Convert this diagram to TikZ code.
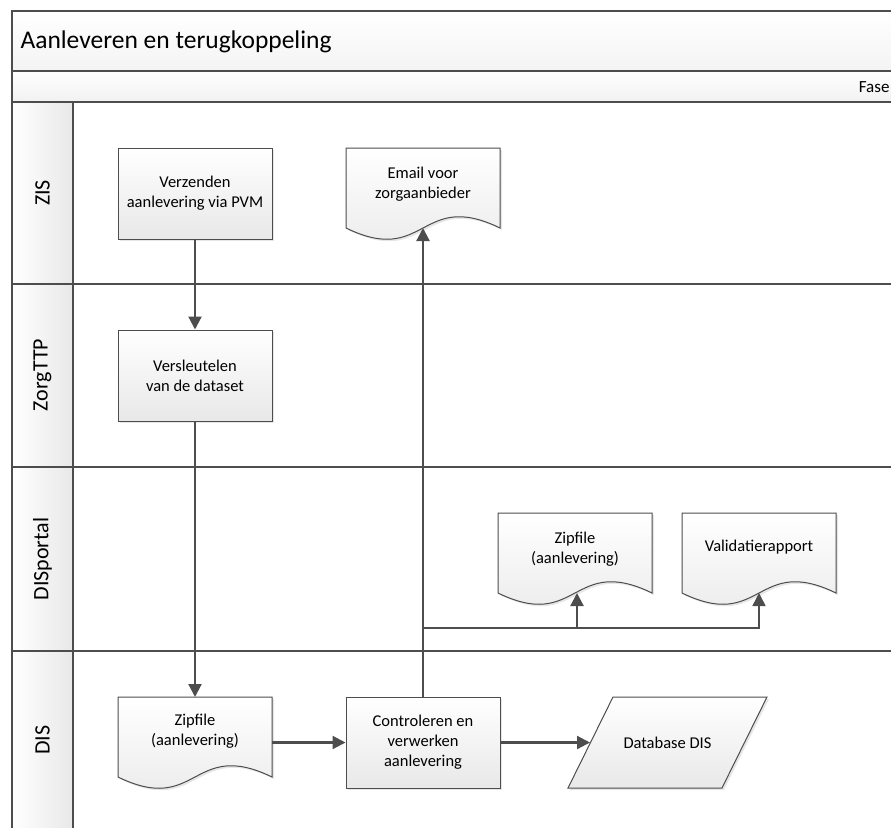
\documentclass[tikz,border=0pt]{standalone}
\usepackage{fontspec}
\setmainfont{Carlito}
\usepackage{xcolor}
\usepackage{tikz}
\usetikzlibrary{calc,arrows.meta,shadows}

\definecolor{lijn}{HTML}{4D4D4D}
\definecolor{vlak}{HTML}{E8E8E8}

% document shape, top-left corner at (#1,#2)
\newcommand{\docvorm}[2]{%
  \path[vorm] (#1,#2) -- (#1+154,#2) -- (#1+154,#2+80)
    .. controls (#1+74,#2+41) and (#1+80,#2+119) .. (#1,#2+80) -- cycle;}

\begin{document}
\begin{tikzpicture}[x=1pt,y=-1pt,
  vorm/.style={draw=lijn, line width=1pt, top color=white, bottom color=vlak,
    drop shadow={shadow xshift=2pt, shadow yshift=-2pt, opacity=0.2}},
  stap/.style={vorm, minimum width=154pt, minimum height=91pt, align=center,
    font=\fontsize{16.5}{20}\selectfont},
  doc/.style={minimum width=154pt, minimum height=68pt, anchor=north, align=center,
    font=\fontsize{16.5}{20}\selectfont},
  baan/.style={rotate=90, font=\fontsize{22}{26}\selectfont},
  rand/.style={draw=lijn, line width=2.2pt},
  pijl/.style={draw=lijn, line width=2.2pt, -{Triangle[length=13pt,width=13pt]}}]

\useasboundingbox (0,0) rectangle (891,827);
\clip (0,0) rectangle (891,827);

% swimlane frame
\shade[top color=white, bottom color=vlak!50] (12,11) rectangle (900,71);
\shade[top color=white, bottom color=vlak!60] (12,71) rectangle (900,102);
\shade[left color=white, right color=vlak] (12,102) rectangle (73,840);
\draw[rand] (12,840) -- (12,11) -- (900,11);
\draw[rand] (12,71) -- (900,71);
\draw[rand] (12,102) -- (900,102);
\draw[rand] (12,284) -- (900,284);
\draw[rand] (12,467) -- (900,467);
\draw[rand] (12,651) -- (900,651);
\draw[rand] (73,102) -- (73,840);

\node[anchor=west, font=\fontsize{25.5}{30}\selectfont] (titel) at (17,42) {Aanleveren en terugkoppeling};
\node[anchor=east, font=\fontsize{17}{20}\selectfont] (fase) at (893,87) {Fase};

\node[baan] (zis) at (42.5,193) {ZIS};
\node[baan] (zorgttp) at (42.5,375) {ZorgTTP};
\node[baan] (disportal) at (42.5,559) {DISportal};
\node[baan] (dis) at (42.5,740) {DIS};

% ZIS
\node[stap] (verzenden) at (195,193.5) {Verzenden\\aanlevering via PVM};
\docvorm{346}{148}
\node[doc] (email) at (423,150) {Email voor\\zorgaanbieder};
\coordinate (email-in) at (423,228);

% ZorgTTP
\node[stap] (versleutelen) at (195,375.5) {Versleutelen\\van de dataset};

% DISportal
\docvorm{498}{513}
\node[doc] (zipportal) at (575,515) {Zipfile\\(aanlevering)};
\docvorm{682}{513}
\node[doc] (valrap) at (759,513) {Validatierapport};
\coordinate (zipportal-in) at (577,593);
\coordinate (valrap-in) at (759,593);

% DIS
\docvorm{118}{697}
\node[doc] (zipdis) at (195,697) {Zipfile\\(aanlevering)};
\node[stap] (ctrl) at (423,742.5) {Controleren en\\verwerken\\aanlevering};
\path[vorm] (613,697) -- (767,697) -- (722,788) -- (568,788) -- cycle;
\node[font=\fontsize{16.5}{20}\selectfont] (db) at (667.5,742.5) {Database DIS};
\coordinate (db-in) at (590,742.5);
\coordinate (splits) at (423,628);

\draw[pijl] (verzenden) -- (versleutelen);
\draw[pijl] (versleutelen) -- (zipdis.north);
\draw[pijl] (zipdis.east |- ctrl.west) -- (ctrl.west);
\draw[pijl] (ctrl.east) -- (db-in);
\draw[pijl] (ctrl.north) -- (email-in);
\draw[pijl] (splits) -| (zipportal-in);
\draw[pijl, line width=1.6pt] (splits) -| (valrap-in);
\end{tikzpicture}
\end{document}
